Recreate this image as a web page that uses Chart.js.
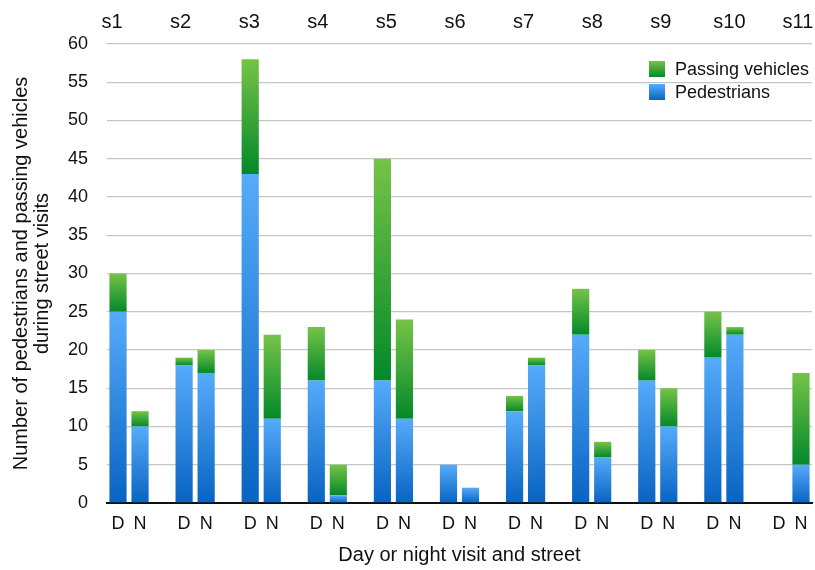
<!DOCTYPE html>
<html>
<head>
<meta charset="utf-8">
<script src="https://cdn.jsdelivr.net/npm/chart.js@4.4.1/dist/chart.umd.min.js"></script>
<style>
  html, body { margin: 0; padding: 0; background: #fff; }
  #wrap { width: 815px; height: 570px; }
</style>
</head>
<body>
<div id="wrap"><canvas id="chart" width="815" height="570"></canvas></div>
<script>
const streets = ["s1", "s2", "s3", "s4", "s5", "s6", "s7", "s8", "s9", "s10", "s11"];
const visitTicks = ["D", "N"];
const pedDay = [25, 18, 43, 16, 16, 5, 12, 22, 16, 19, 0];
const pedNight = [10, 17, 11, 1, 11, 2, 18, 6, 10, 22, 5];
const vehDay = [5, 1, 15, 7, 29, 0, 2, 6, 4, 6, 0];
const vehNight = [2, 3, 11, 4, 13, 0, 1, 2, 5, 1, 12];
const yTicks = [0, 5, 10, 15, 20, 25, 30, 35, 40, 45, 50, 55, 60];

// one slot per visit, plus an empty slot between streets
const labels = [], ped = [], veh = [];
streets.forEach((s, i) => {
  labels.push(visitTicks[0], visitTicks[1]);
  ped.push(pedDay[i], pedNight[i]);
  veh.push(vehDay[i], vehNight[i]);
  if (i < streets.length - 1) {
    labels.push("");
    ped.push(null);
    veh.push(null);
  }
});

const FONT = "'Liberation Sans', Arial, sans-serif";
const INK = "#111";
const BLUE = ["#56abfa", "#0863c2"];
const GREEN = ["#76c347", "#03892a"];

function segFill(chart, lo, hi, colors) {
  const y = chart.scales.y;
  if (!chart.chartArea || !y) return colors[1];
  const g = chart.ctx.createLinearGradient(0, y.getPixelForValue(hi), 0, y.getPixelForValue(lo));
  g.addColorStop(0, colors[0]);
  g.addColorStop(1, colors[1]);
  return g;
}

// street names along the top, and the legend in the upper right
const overlay = {
  id: "overlay",
  afterDraw(chart) {
    const { ctx, chartArea: a } = chart;
    ctx.save();
    ctx.fillStyle = INK;
    ctx.font = "20px " + FONT;
    ctx.textAlign = "center";
    ctx.textBaseline = "middle";
    const step = (a.width - 19) / (streets.length - 1);
    streets.forEach((s, i) => ctx.fillText(s, a.left + 5 + i * step, 22));

    const items = [["Passing vehicles", GREEN], ["Pedestrians", BLUE]];
    ctx.font = "18px " + FONT;
    ctx.textAlign = "left";
    items.forEach(([txt, c], i) => {
      const bx = a.right - 163, by = 61 + i * 23;
      const g = ctx.createLinearGradient(0, by, 0, by + 16);
      g.addColorStop(0, c[0]);
      g.addColorStop(1, c[1]);
      ctx.fillStyle = g;
      ctx.fillRect(bx, by, 16, 16);
      ctx.fillStyle = INK;
      ctx.fillText(txt, bx + 26, by + 9);
    });
    ctx.restore();
  }
};

new Chart(document.getElementById("chart"), {
  type: "bar",
  data: {
    labels,
    datasets: [
      {
        label: "Pedestrians",
        data: ped,
        backgroundColor: c => c.type === "data" ? segFill(c.chart, 0, ped[c.dataIndex] || 0, BLUE) : BLUE[1],
        barPercentage: 0.78,
        categoryPercentage: 1
      },
      {
        label: "Passing vehicles",
        data: veh,
        backgroundColor: c => {
          if (c.type !== "data") return GREEN[1];
          const base = ped[c.dataIndex] || 0;
          return segFill(c.chart, base, base + (veh[c.dataIndex] || 0), GREEN);
        },
        barPercentage: 0.78,
        categoryPercentage: 1
      }
    ]
  },
  options: {
    responsive: false,
    animation: false,
    layout: { padding: { left: 4, right: 3, top: 44, bottom: 0 } },
    plugins: {
      legend: { display: false },
      tooltip: { enabled: false }
    },
    scales: {
      x: {
        stacked: true,
        afterFit: s => { s.height = 67; },
        grid: { display: false },
        border: { display: true, color: INK, width: 2 },
        ticks: { color: INK, font: { family: FONT, size: 18 }, maxRotation: 0, autoSkip: false, padding: 2 },
        title: {
          display: true,
          text: "Day or night visit and street",
          color: INK,
          font: { family: FONT, size: 20 },
          padding: { top: 4, bottom: 3 }
        }
      },
      y: {
        stacked: true,
        min: 0,
        max: 60,
        afterBuildTicks: s => { s.ticks = yTicks.map(v => ({ value: v })); },
        afterFit: s => { s.width = 103; },
        border: { display: false },
        grid: { color: "#c6c6c6", lineWidth: 1.3, drawTicks: false },
        ticks: { color: INK, font: { family: FONT, size: 18 }, padding: 19 },
        title: {
          display: true,
          text: ["Number of pedestrians and passing vehicles", "during street visits"],
          color: INK,
          font: { family: FONT, size: 20, lineHeight: 1.05 },
          padding: { top: 7, bottom: 0 }
        }
      }
    }
  },
  plugins: [overlay]
});
</script>
</body>
</html>
